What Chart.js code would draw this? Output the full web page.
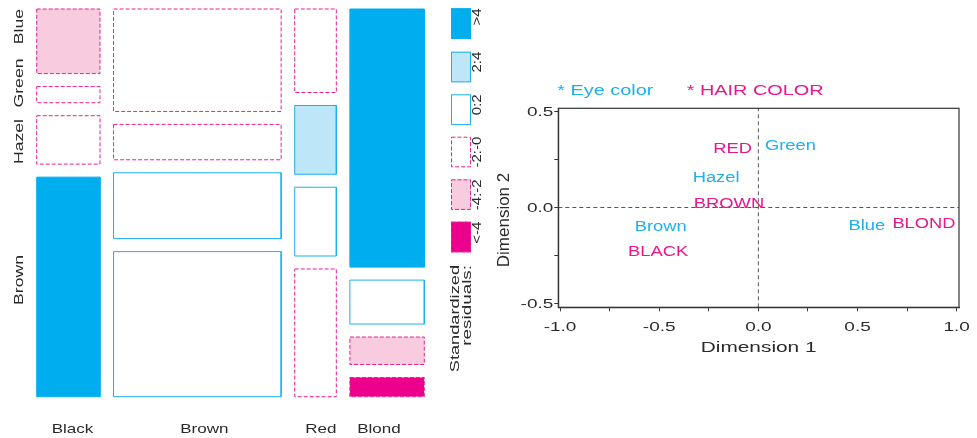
<!DOCTYPE html>
<html>
<head>
<meta charset="utf-8">
<script src="https://cdn.jsdelivr.net/npm/chart.js@4.4.0/dist/chart.umd.min.js"></script>
<style>
  html, body { margin: 0; padding: 0; background: #fff; }
  #wrap { position: relative; width: 977px; height: 438px; overflow: hidden; }
  #mosaic { position: absolute; left: 0; top: 0; }
  #ca { position: absolute; left: 490px; top: 0; }
</style>
</head>
<body>
<div id="wrap">
  <canvas id="mosaic" width="490" height="438"></canvas>
  <canvas id="ca" width="487" height="438"></canvas>
</div>
<script>
// hair x eye counts, eyes in mosaic order (top to bottom)
const hairColors = ['Black', 'Brown', 'Red', 'Blond'];
const eyeColors = ['Blue', 'Green', 'Hazel', 'Brown'];
const blackCounts = [20, 5, 15, 68];
const brownCounts = [84, 29, 54, 119];
const redCounts = [17, 14, 14, 26];
const blondCounts = [94, 16, 10, 7];

const residualBins = ['>4', '2:4', '0:2', '-2:-0', '-4:-2', '<-4'];

// correspondence analysis coordinates
const hairNames = ['BLACK', 'BROWN', 'RED', 'BLOND'];
const hairDim1 = [-0.505, -0.148, -0.130, 0.835];
const hairDim2 = [-0.215, 0.033, 0.320, -0.070];
const eyeNames = ['Brown', 'Blue', 'Hazel', 'Green'];
const eyeDim1 = [-0.492, 0.547, -0.213, 0.162];
const eyeDim2 = [-0.088, -0.083, 0.167, 0.339];

const dim1Ticks = [-1, -0.5, 0, 0.5, 1];
const dim2Ticks = [-0.5, 0, 0.5];

const FONT = '"Liberation Sans", Arial, Helvetica, sans-serif';
const CYAN = '#1cb0ee';
const MAGENTA = '#e8178c';
const INK = '#2a2a2a';

function wideText(ctx, text, x, y, o) {
  ctx.save();
  ctx.translate(x, y);
  if (o.rotate) ctx.rotate(o.rotate);
  ctx.scale(o.stretch || 1, 1);
  ctx.font = o.size + 'px ' + FONT;
  ctx.fillStyle = o.color || INK;
  ctx.textAlign = o.align || 'center';
  ctx.textBaseline = o.baseline || 'alphabetic';
  ctx.fillText(text, 0, 0);
  ctx.restore();
}

// ---- mosaic ----
const table = [blackCounts, brownCounts, redCounts, blondCounts];
const hairTot = table.map(c => c.reduce((a, b) => a + b, 0));
const grand = hairTot.reduce((a, b) => a + b, 0);
const eyeTot = eyeColors.map((_, j) => table.reduce((s, c) => s + c[j], 0));

const binStyle = [
  { fill: '#00aeef', line: '#00aeef', dash: [] },
  { fill: '#bde6f8', line: CYAN, dash: [] },
  { fill: '#ffffff', line: CYAN, dash: [] },
  { fill: '#ffffff', line: '#ec1f90', dash: [4, 2] },
  { fill: '#f8cbdf', line: '#ec1f90', dash: [4, 2] },
  { fill: '#ec008c', line: '#ec1f90', dash: [4, 2] }
];

function binOf(r) {
  if (r > 4) return 0;
  if (r > 2) return 1;
  if (r >= 0) return 2;
  if (r > -2) return 3;
  if (r > -4) return 4;
  return 5;
}

const X_GAP = 0.035, Y_GAP = 0.0335;
const cells = [];
let x0 = 0;
table.forEach((col, i) => {
  const w = (1 - 3 * X_GAP) * hairTot[i] / grand;
  let top = 1;
  col.forEach((n, j) => {
    const h = (1 - 3 * Y_GAP) * n / hairTot[i];
    const e = hairTot[i] * eyeTot[j] / grand;
    const st = binStyle[binOf((n - e) / Math.sqrt(e))];
    cells.push({
      label: hairColors[i] + ' / ' + eyeColors[j],
      data: [
        { x: x0, y: top }, { x: x0 + w, y: top },
        { x: x0 + w, y: top - h }, { x: x0, y: top - h }, { x: x0, y: top }
      ],
      borderColor: st.line,
      backgroundColor: st.fill,
      borderDash: st.dash,
      borderWidth: 1,
      fill: 'shape',
      pointRadius: 0,
      tension: 0,
      clip: false
    });
    top -= h + Y_GAP;
  });
  x0 += w + X_GAP;
});

const eyeLabelY = [26.5, 83, 141.5, 280];
const hairLabelX = [72.5, 204.3, 320.8, 379];
const legendTop = [8.3, 51.7, 94.3, 136.7, 179.3, 221.7];

const mosaicText = {
  id: 'mosaicText',
  afterDraw(chart) {
    const ctx = chart.ctx;
    eyeColors.forEach((name, j) => {
      wideText(ctx, name, 19.5, eyeLabelY[j], { size: 12.6, stretch: 1.4, rotate: -Math.PI / 2, baseline: 'middle' });
    });
    hairColors.forEach((name, i) => {
      wideText(ctx, name, hairLabelX[i], 433, { size: 13, stretch: 1.31 });
    });
    // legend swatches
    residualBins.forEach((lab, k) => {
      const st = binStyle[k];
      const y = legendTop[k];
      ctx.save();
      ctx.fillStyle = st.fill;
      ctx.fillRect(451, y, 20, 30.6);
      ctx.strokeStyle = st.line;
      ctx.lineWidth = 1;
      ctx.setLineDash(st.dash);
      ctx.strokeRect(451.5, y + 0.5, 19, 29.6);
      ctx.restore();
      wideText(ctx, lab, 477.5, y, { size: 12, stretch: 1.25, rotate: -Math.PI / 2, align: 'right', baseline: 'middle' });
    });
    wideText(ctx, 'Standardized', 455, 265, { size: 13, stretch: 1.4, rotate: -Math.PI / 2, align: 'right', baseline: 'middle' });
    wideText(ctx, 'residuals:', 467.5, 265, { size: 13, stretch: 1.45, rotate: -Math.PI / 2, align: 'right', baseline: 'middle' });
  }
};

new Chart(document.getElementById('mosaic'), {
  type: 'line',
  data: { datasets: cells },
  options: {
    responsive: false,
    animation: false,
    events: [],
    layout: { autoPadding: false, padding: { left: 36.7, right: 490 - 424.3, top: 9, bottom: 438 - 396.7 } },
    scales: {
      x: { type: 'linear', min: 0, max: 1, display: false },
      y: { type: 'linear', min: 0, max: 1, display: false }
    },
    plugins: { legend: { display: false }, tooltip: { enabled: false } }
  },
  plugins: [mosaicText]
});

// ---- correspondence analysis plot ----
const X_MIN = -1.0086, X_MAX = 1.0116, Y_MIN = -0.5209, Y_MAX = 0.5177;

const caText = {
  id: 'caText',
  afterDraw(chart) {
    const ctx = chart.ctx;
    const a = chart.chartArea;
    const sx = chart.scales.x, sy = chart.scales.y;
    ctx.save();
    ctx.strokeStyle = '#333';
    ctx.lineWidth = 1.2;
    ctx.strokeRect(a.left, a.top, a.right - a.left, a.bottom - a.top);
    ctx.restore();
    dim1Ticks.forEach(v => {
      wideText(ctx, v.toFixed(1), sx.getPixelForValue(v), 331, { size: 13, stretch: 1.46 });
    });
    dim2Ticks.forEach(v => {
      wideText(ctx, v.toFixed(1), a.left - 5, sy.getPixelForValue(v) + 4.7, { size: 13, stretch: 1.46, align: 'right' });
    });
    wideText(ctx, 'Dimension 1', (a.left + a.right) / 2, 351.7, { size: 15, stretch: 1.39 });
    wideText(ctx, 'Dimension 2', 14, 220, { size: 17, stretch: 1.0, rotate: -Math.PI / 2, baseline: 'middle' });
    wideText(ctx, '* Eye color', 67.3, 95, { size: 14, stretch: 1.42, align: 'left', color: CYAN });
    wideText(ctx, '* HAIR COLOR', 196.7, 95, { size: 14, stretch: 1.42, align: 'left', color: MAGENTA });
    [[0, hairNames, MAGENTA], [1, eyeNames, CYAN]].forEach(([k, names, color]) => {
      chart.getDatasetMeta(k).data.forEach((pt, i) => {
        wideText(ctx, names[i], pt.x, pt.y + 7, { size: 14, stretch: 1.31, color });
      });
    });
  }
};

new Chart(document.getElementById('ca'), {
  type: 'scatter',
  data: {
    datasets: [
      {
        label: 'HAIR COLOR',
        data: hairDim1.map((v, i) => ({ x: v, y: hairDim2[i] })),
        pointRadius: 0,
        backgroundColor: MAGENTA
      },
      {
        label: 'Eye color',
        data: eyeDim1.map((v, i) => ({ x: v, y: eyeDim2[i] })),
        pointRadius: 0,
        backgroundColor: CYAN
      },
      {
        data: [{ x: 0, y: Y_MIN }, { x: 0, y: Y_MAX }],
        showLine: true, pointRadius: 0, borderColor: '#555', borderWidth: 1, borderDash: [4, 3]
      },
      {
        data: [{ x: X_MIN, y: 0 }, { x: X_MAX, y: 0 }],
        showLine: true, pointRadius: 0, borderColor: '#555', borderWidth: 1, borderDash: [4, 3]
      }
    ]
  },
  options: {
    responsive: false,
    animation: false,
    events: [],
    layout: { autoPadding: false, padding: { left: 64.3, right: 18, top: 108.3, bottom: 126.7 } },
    scales: {
      x: {
        type: 'linear', min: X_MIN, max: X_MAX,
        ticks: { stepSize: 0.25, display: false, includeBounds: false },
        grid: { drawOnChartArea: false, drawTicks: true, tickLength: 4, color: '#333' },
        border: { display: true, color: '#333', width: 1.2 }
      },
      y: {
        type: 'linear', min: Y_MIN, max: Y_MAX,
        ticks: { stepSize: 0.25, display: false, includeBounds: false },
        grid: { drawOnChartArea: false, drawTicks: true, tickLength: 4, color: '#333' },
        border: { display: true, color: '#333', width: 1.2 }
      }
    },
    plugins: { legend: { display: false }, tooltip: { enabled: false } }
  },
  plugins: [caText]
});
</script>
</body>
</html>
